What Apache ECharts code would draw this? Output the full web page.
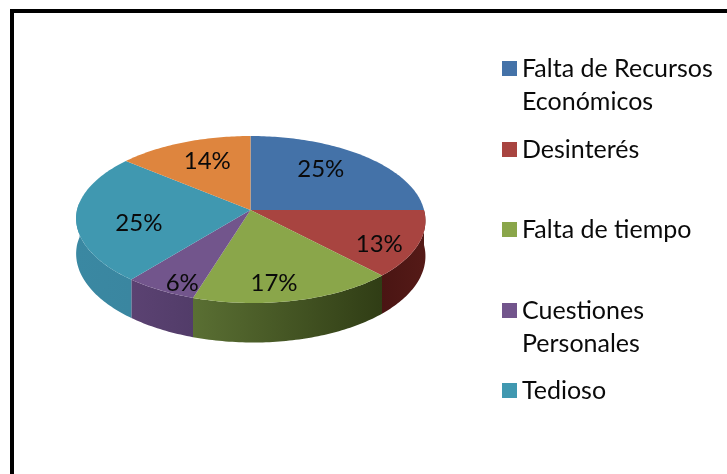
<!DOCTYPE html>
<html>
<head>
<meta charset="utf-8">
<style>html,body{margin:0;padding:0;background:#fff}#c{width:727px;height:474px}</style>
<script src="https://cdn.jsdelivr.net/npm/echarts@6/dist/echarts.min.js"></script>
</head>
<body>
<div id="c"></div>
<script>
const categories = ['Falta de Recursos\nEconómicos', 'Desinterés', 'Falta de tiempo', 'Cuestiones\nPersonales', 'Tedioso', 'Otros'];
const percents = [25, 13, 17, 6, 25, 14];
const legendCategories = categories.slice(0, 5);

const topColors = ['#4472A8', '#A84440', '#8AA64A', '#72558C', '#4098B0', '#DE853E'];
const sideColors = [
  ['#2d4e75', '#2d4e75'],
  ['#4a1513', '#551a17'],
  ['#5a6f33', '#303d15'],
  ['#5b4272', '#523c69'],
  ['#3a88a2', '#3a86a0'],
  ['#9c5c2a', '#9c5c2a']
];
const labelNudge = [[-11, -2], [13, 11], [-7, 12], [-7, 19], [10, 8], [5, 0]];
const legendSwatchY = [68.5, 149.5, 229.5, 310.5, 390.5];

const FONT = 'Lato, Carlito, "Open Sans", sans-serif';
const cx = 250.5, cy = 210, R = 173.5, S = 82.4, K = 0.114, DEPTH = 35, SHEAR = 0.03;
const total = percents.reduce((a, b) => a + b, 0);

function project(theta, f) {
  const u = Math.sin(theta) * f, v = Math.cos(theta) * f, w = 1 + K * v;
  const y = cy - S * v / w;
  return { x: cx + R * u / w + SHEAR * Math.max(0, y - cy), y, w };
}
function startOf(i) {
  let s = 0;
  for (let k = 0; k < i; k++) s += percents[k];
  return s;
}
function arc(a0, a1) {
  const pts = [], n = Math.max(2, Math.ceil((a1 - a0) * 180 / Math.PI));
  for (let j = 0; j <= n; j++) pts.push(project(a0 + (a1 - a0) * j / n, 1));
  return pts;
}
function renderSlice(i) {
  return function (params, api) {
    const value = api.value(0);
    const a0 = startOf(i) / total * 2 * Math.PI;
    const a1 = a0 + value / total * 2 * Math.PI;
    const children = [];
    // visible wall, from the right silhouette round the front to the left one
    const lo = Math.max(a0, Math.PI / 2), hi = Math.min(a1, 1.53 * Math.PI);
    if (hi > lo) {
      const rim = arc(lo, hi);
      const pts = rim.map(p => [p.x, p.y]);
      for (let j = rim.length - 1; j >= 0; j--) pts.push([rim[j].x, rim[j].y + DEPTH / rim[j].w]);
      children.push({
        type: 'polygon', z2: 1,
        shape: { points: pts },
        style: {
          fill: new echarts.graphic.LinearGradient(0, 0, 1, 0, [
            { offset: 0, color: sideColors[i][0] },
            { offset: 1, color: sideColors[i][1] }
          ])
        }
      });
    }
    // top face
    const face = arc(a0, a1).map(p => [p.x, p.y]);
    face.unshift([cx, cy]);
    children.push({
      type: 'polygon', z2: 2,
      shape: { points: face },
      style: { fill: topColors[i] }
    });
    // percent label
    const mid = project((a0 + a1) / 2, 0.7);
    children.push({
      type: 'text', z2: 3,
      x: mid.x + labelNudge[i][0], y: mid.y + labelNudge[i][1],
      style: {
        text: value + '%', font: '24px ' + FONT, fill: '#0a0a0a',
        align: 'center', verticalAlign: 'middle'
      }
    });
    return { type: 'group', children };
  };
}

const LINE = 33;
const chart = echarts.init(document.getElementById('c'), null, { renderer: 'canvas' });
chart.setOption({
  animation: false,
  backgroundColor: '#fff',
  tooltip: { show: false },
  graphic: [{
    type: 'polyline', silent: true,
    shape: { points: [[12, 474], [12, 11], [727, 11]] },
    style: { stroke: '#000', lineWidth: 4, fill: null }
  }],
  legend: legendCategories.map((name, i) => {
    const twoLines = name.indexOf('\n') >= 0;
    const h = twoLines ? 3 * LINE : LINE;
    return {
      data: [name],
      orient: 'vertical',
      left: 502,
      top: legendSwatchY[i] - h / 2,
      padding: 0,
      icon: 'rect',
      itemWidth: 15,
      itemHeight: 15,
      itemGap: 0,
      selectedMode: false,
      formatter: n => (n.indexOf('\n') >= 0 ? '\n' + n : n),
      textStyle: { fontFamily: FONT, fontSize: 25, color: '#0a0a0a', lineHeight: LINE, padding: 0 }
    };
  }),
  series: categories.map((name, i) => ({
    type: 'custom',
    name,
    coordinateSystem: 'none',
    silent: true,
    itemStyle: { color: topColors[i] },
    renderItem: renderSlice(i),
    data: [[percents[i]]]
  }))
});
</script>
</body>
</html>
